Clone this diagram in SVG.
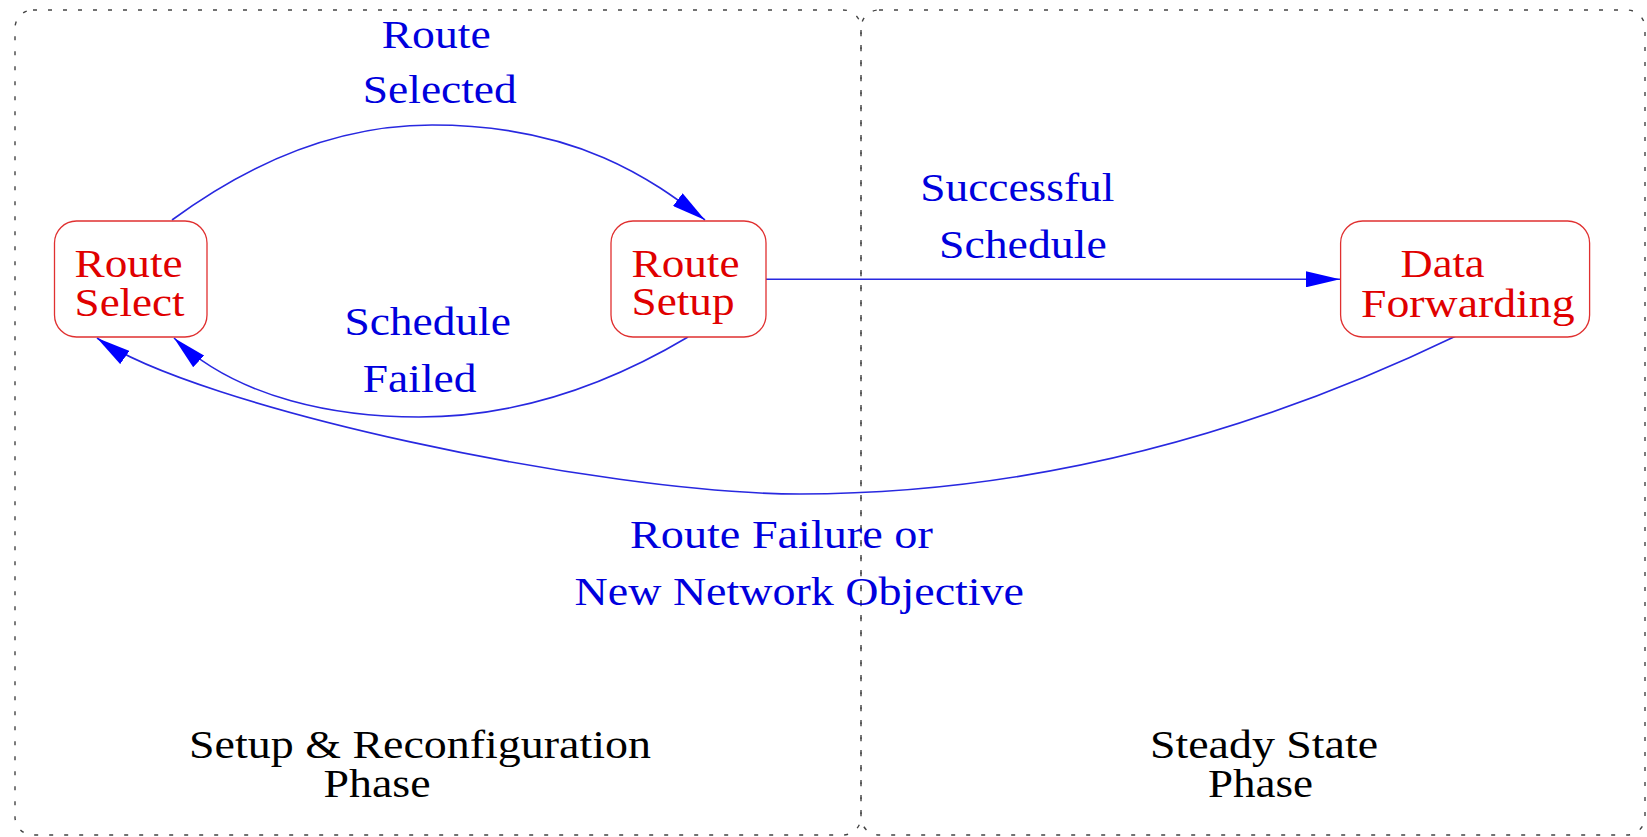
<svg xmlns="http://www.w3.org/2000/svg" width="1647" height="837" viewBox="0 0 1647 837">
<style>
.frame{fill:none;stroke:#444;stroke-width:1.4;stroke-dasharray:4 11}
.node{fill:#fff;stroke:#e03030;stroke-width:1.3}
.nt{font-size:40px;fill:#e00000}
.et{font-size:40px;fill:#0000dd}
.pt{font-size:40px;fill:#000}
.edge{fill:none;stroke:#2828e0;stroke-width:1.6;marker-end:url(#arr)}
</style>
<defs>
<marker id="arr" markerUnits="userSpaceOnUse" markerWidth="34" markerHeight="16" refX="34" refY="8" orient="auto">
<path d="M0,0 L34,8 L0,16 z" fill="#0000ff"/>
</marker>
</defs>
<rect width="1647" height="837" fill="#fff"/>
<g font-family="Liberation Serif, Times New Roman, Times, serif">
<g id="phases">
<rect class="frame" x="15" y="10" width="846" height="825" rx="18"/>
<rect class="frame" x="861" y="10" width="784" height="825" rx="18"/>
<text class="pt" x="189" y="758" textLength="462" lengthAdjust="spacingAndGlyphs">Setup &amp; Reconfiguration</text>
<text class="pt" x="323.5" y="797" textLength="107" lengthAdjust="spacingAndGlyphs">Phase</text>
<text class="pt" x="1150" y="758" textLength="228" lengthAdjust="spacingAndGlyphs">Steady State</text>
<text class="pt" x="1208" y="797" textLength="105" lengthAdjust="spacingAndGlyphs">Phase</text>
</g>
<g id="connectors">
<path class="edge" d="M172,220 Q301,125 432,125 C582,125 657,184 705,220"/>
<path class="edge" d="M766,279.3 L1340,279.3"/>
<path class="edge" d="M688,337 Q553.5,417 419,417 C339,417 239.3,400 174,338"/>
<path class="edge" d="M1456,336 Q1128,494 800,494 C600,494 195,407 97,338"/>
<text class="et" x="381.7" y="48.3" textLength="109" lengthAdjust="spacingAndGlyphs">Route</text>
<text class="et" x="362.8" y="103.3" textLength="154" lengthAdjust="spacingAndGlyphs">Selected</text>
<text class="et" x="344.4" y="335" textLength="166.5" lengthAdjust="spacingAndGlyphs">Schedule</text>
<text class="et" x="362.8" y="391.7" textLength="113.7" lengthAdjust="spacingAndGlyphs">Failed</text>
<text class="et" x="920.2" y="200.7" textLength="194.2" lengthAdjust="spacingAndGlyphs">Successful</text>
<text class="et" x="939" y="258.3" textLength="167.7" lengthAdjust="spacingAndGlyphs">Schedule</text>
<text class="et" x="630" y="548.3" textLength="302.8" lengthAdjust="spacingAndGlyphs">Route Failure or</text>
<text class="et" x="574.6" y="605" textLength="449.4" lengthAdjust="spacingAndGlyphs">New Network Objective</text>
</g>
<g id="route-select">
<rect class="node" x="54.5" y="221" width="152.5" height="116" rx="22"/>
<text class="nt" x="74.6" y="276.7" textLength="108" lengthAdjust="spacingAndGlyphs">Route</text>
<text class="nt" x="74.6" y="316" textLength="110" lengthAdjust="spacingAndGlyphs">Select</text>
</g>
<g id="route-setup">
<rect class="node" x="611" y="221" width="155" height="116" rx="22"/>
<text class="nt" x="631.5" y="276.7" textLength="108" lengthAdjust="spacingAndGlyphs">Route</text>
<text class="nt" x="631.5" y="315" textLength="103" lengthAdjust="spacingAndGlyphs">Setup</text>
</g>
<g id="data-forwarding">
<rect class="node" x="1340.6" y="221" width="249" height="116" rx="22"/>
<text class="nt" x="1400.6" y="276.7" textLength="84" lengthAdjust="spacingAndGlyphs">Data</text>
<text class="nt" x="1361" y="316.7" textLength="213.6" lengthAdjust="spacingAndGlyphs">Forwarding</text>
</g>
</g>
</svg>
